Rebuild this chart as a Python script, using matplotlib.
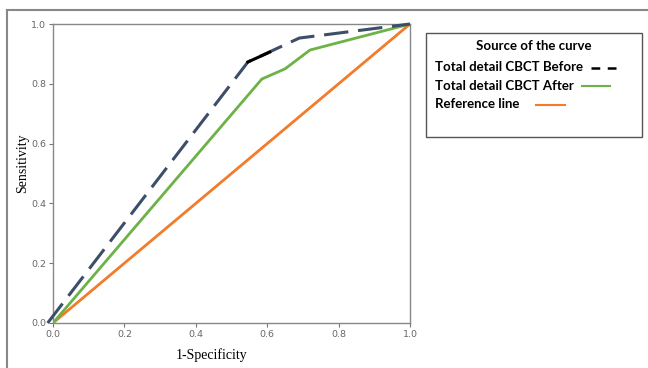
import matplotlib.pyplot as plt
from matplotlib.lines import Line2D
from matplotlib.patches import Rectangle

# ROC curve points (1-Specificity, Sensitivity)
before_x = [-0.015, 0.546, 0.69, 1.0]
before_y = [0.0, 0.873, 0.953, 1.0]
before_dark_x = [0.546, 0.607]
before_dark_y = [0.873, 0.906]
after_x = [0.0, 0.585, 0.65, 0.72, 1.0]
after_y = [0.0, 0.816, 0.85, 0.913, 1.0]
ref_x = [0.0, 1.0]
ref_y = [0.0, 1.0]
ticks = [0.0, 0.2, 0.4, 0.6, 0.8, 1.0]
tick_labels = ["0.0", "0.2", "0.4", "0.6", "0.8", "1.0"]

legend_title = "Source of the curve"
legend_names = ["Total detail CBCT Before", "Total detail CBCT After", "Reference line"]

DARK = "#3c4e68"
GREEN = "#6cb246"
ORANGE = "#f27b2c"

fig = plt.figure(figsize=(6.48, 3.68), dpi=100)
W, H = 648, 368


def fx(px):
    return px / W


def fy(py):
    return 1 - py / H


ax = fig.add_axes([fx(53), fy(323), fx(410) - fx(53), fy(24) - fy(323)])
ax.plot(ref_x, ref_y, color=ORANGE, lw=2.0, zorder=2)
ax.plot(after_x, after_y, color=GREEN, lw=2.0, zorder=3)
ax.plot(before_x, before_y, color=DARK, lw=2.2, dashes=(8, 3.2), clip_on=False, zorder=4)
ax.plot(before_dark_x, before_dark_y, color="black", lw=2.2, zorder=5)

ax.set_xlim(0, 1)
ax.set_ylim(0, 1)
ax.set_xticks(ticks)
ax.set_xticklabels(tick_labels)
ax.set_yticks(ticks)
ax.set_yticklabels(tick_labels)
ax.tick_params(direction="out", length=3, width=0.8, colors="#777777", labelsize=6.8,
               labelcolor="#666666", pad=2)
for spine in ax.spines.values():
    spine.set_color("#888888")
    spine.set_linewidth(1.0)

ax.set_xlabel("1-Specificity", family="Liberation Serif", fontsize=10)
ax.xaxis.set_label_coords(0.443, -0.085)
ax.set_ylabel("Sensitivity", family="Liberation Serif", fontsize=10)
ax.yaxis.set_label_coords(-0.068, 0.535)

# outer frame (top and left edges)
fig.add_artist(Line2D([fx(7), 1], [fy(10), fy(10)], color="#888888", lw=1.5))
fig.add_artist(Line2D([fx(7), fx(7)], [fy(10), 0], color="#888888", lw=1.5))

# legend box
fig.add_artist(Rectangle((fx(426), fy(137)), fx(642) - fx(426), fy(33) - fy(137),
                         fill=False, edgecolor="#555555", lw=1.0))
font = dict(family="Lato", weight="bold", fontsize=9.5, color="black")
fig.text(fx(534), fy(46), legend_title, ha="center", va="center", **font)
rows_y = [67, 86, 104]
for name, py in zip(legend_names, rows_y):
    fig.text(fx(435), fy(py), name, ha="left", va="center", **font)
fig.add_artist(Line2D([fx(591), fx(621)], [fy(68), fy(68)], color="black", lw=1.8,
                      dashes=(3.5, 3)))
fig.add_artist(Line2D([fx(582), fx(610)], [fy(86), fy(86)], color=GREEN, lw=1.5))
fig.add_artist(Line2D([fx(536), fx(565)], [fy(105), fy(105)], color=ORANGE, lw=1.5))

fig.savefig("out.png", dpi=100)
